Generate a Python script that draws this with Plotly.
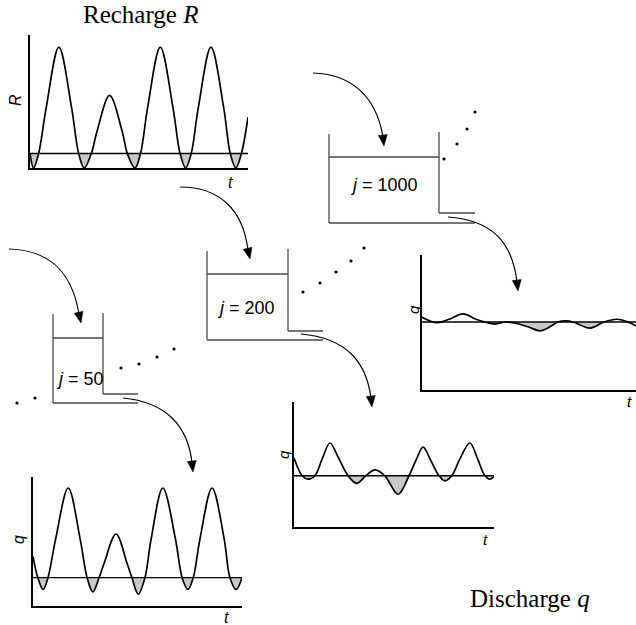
import plotly.graph_objects as go

W_PX, H_PX = 636, 625

# ---- data -------------------------------------------------------------
# Recharge R(t); time in units of one recharge cycle
rech_t = [0.00, 0.07, 0.17, 0.32, 0.57, 0.82, 0.96, 1.07, 1.21, 1.32, 1.57, 1.82,
          1.92, 2.07, 2.18, 2.32, 2.57, 2.82, 2.96, 3.07, 3.18, 3.32, 3.57, 3.82,
          3.95, 4.06, 4.17, 4.30]
rech_R = [1.2, 0.0, 1.2, 5.0, 10.0, 5.0, 1.2, 0.0, 1.2, 3.0, 6.0, 3.0,
          1.2, 0.0, 1.2, 5.0, 10.0, 5.0, 1.2, 0.0, 1.2, 5.0, 10.0, 5.0,
          1.2, 0.0, 1.2, 4.2]
rech_thr = 1.2

# Discharge q(t), reservoir j = 50
q50_t = [0.00, 0.10, 0.21, 0.31, 0.47, 0.73, 0.98, 1.12, 1.24, 1.37, 1.48, 1.72,
         1.95, 2.05, 2.18, 2.32, 2.44, 2.69, 2.95, 3.09, 3.21, 3.32, 3.46, 3.71,
         3.96, 4.08, 4.21, 4.33]
q50_q = [4.2, 2.4, 1.4, 2.4, 5.7, 10.0, 5.6, 2.4, 1.2, 2.4, 3.7, 6.1,
         3.6, 2.4, 1.0, 2.4, 5.5, 10.0, 5.7, 2.4, 1.4, 2.4, 5.7, 10.0,
         5.7, 2.4, 1.4, 2.4]
q50_thr = 2.4

# Discharge q(t), reservoir j = 200
q200_t = [0.00, 0.18, 0.31, 0.46, 0.62, 0.79, 0.99, 1.19, 1.38, 1.58, 1.78, 2.00,
          2.29, 2.53, 2.68, 2.84, 3.01, 3.19, 3.32, 3.47, 3.65, 3.87, 4.04, 4.20,
          4.31, 4.40]
q200_q = [8.2, 6.1, 5.7, 6.1, 8.1, 10.0, 8.1, 6.1, 5.2, 6.1, 6.8, 6.1,
          3.9, 6.1, 7.9, 9.5, 7.9, 6.1, 5.5, 6.1, 8.1, 10.0, 8.1, 6.1,
          5.7, 6.0]
q200_thr = 6.1

# Discharge q(t), reservoir j = 1000
q1000_t = [0.00, 0.30, 0.54, 0.82, 1.08, 1.26, 1.46, 1.66, 1.84, 2.12, 2.36, 2.56,
           2.72, 2.88, 3.02, 3.36, 3.64, 3.90, 4.12, 4.28]
q1000_q = [10.7, 9.9, 10.4, 11.2, 10.4, 10.0, 9.7, 10.0, 9.85, 9.3, 8.7, 9.3,
           10.0, 10.15, 10.0, 9.1, 10.0, 10.4, 10.0, 9.4]
q1000_thr = 10.0

reservoir_labels = ["50", "200", "1000"]

# ---- layout helpers ---------------------------------------------------
def domains(left, right, top, bottom):
    return ([left / W_PX, right / W_PX], [1 - bottom / H_PX, 1 - top / H_PX])


def below_groups(ts, vs, thr):
    groups, cur = [], []
    for t, v in zip(ts, vs):
        if v <= thr + 1e-9:
            cur.append((t, v))
        else:
            if len(cur) >= 3:
                groups.append(cur)
            cur = []
    if len(cur) >= 3:
        groups.append(cur)
    return groups


panels = [
    # (t, values, threshold, pixel box l,r,t,b, x range, y range)
    (rech_t, rech_R, rech_thr, (30, 248, 35, 168), 4.30, 11.0),
    (q50_t, q50_q, q50_thr, (33, 242, 477, 606), 4.33, 10.93),
    (q200_t, q200_q, q200_thr, (294, 494, 402, 527), 4.40, 14.88),
    (q1000_t, q1000_q, q1000_thr, (422, 636, 255, 390), 4.28, 19.85),
]

fig = go.Figure()
layout_axes = {}

# full-page sketch axes (pixel units) for reservoirs, arrows and labels
layout_axes["xaxis"] = dict(domain=[0, 1], range=[0, W_PX], visible=False)
layout_axes["yaxis"] = dict(domain=[0, 1], range=[H_PX, 0], visible=False)

axis_style = dict(showline=True, linecolor="black", linewidth=1.5,
                  showticklabels=False, ticks="", showgrid=False,
                  zeroline=False, fixedrange=True)

for i, (ts, vs, thr, box, xr, yr) in enumerate(panels):
    n = i + 2
    xd, yd = domains(*box)
    layout_axes[f"xaxis{n}"] = dict(domain=xd, range=[0, xr], anchor=f"y{n}", **axis_style)
    layout_axes[f"yaxis{n}"] = dict(domain=yd, range=[0, yr], anchor=f"x{n}", **axis_style)
    xa, ya = f"x{n}", f"y{n}"

    for g in below_groups(ts, vs, thr):
        fig.add_trace(go.Scatter(
            x=[p[0] for p in g], y=[p[1] for p in g], mode="lines",
            line=dict(shape="spline", width=0, color="rgba(0,0,0,0)"),
            fill="toself", fillcolor="#c8c8c8", hoverinfo="skip",
            showlegend=False, xaxis=xa, yaxis=ya))

    fig.add_trace(go.Scatter(
        x=[0, xr], y=[thr, thr], mode="lines",
        line=dict(color="black", width=1.4), showlegend=False,
        hoverinfo="skip", xaxis=xa, yaxis=ya))

    fig.add_trace(go.Scatter(
        x=ts, y=vs, mode="lines",
        line=dict(color="black", width=1.7, shape="spline", smoothing=1.0),
        showlegend=False, hoverinfo="skip", xaxis=xa, yaxis=ya))

shapes = []
BUCKET = "#4a4a4a"

def seg(x0, y0, x1, y1, color=BUCKET, w=1.3):
    shapes.append(dict(type="line", xref="x", yref="y", x0=x0, y0=y0, x1=x1, y1=y1,
                       line=dict(color=color, width=w)))

# reservoirs: left wall x, right wall x, tops, water level, outlet y, floor y, outlet end x
reservoirs = [
    (53, 103, 314, 313, 338, 394, 403, 138),
    (207, 288, 251, 249, 274, 331, 340, 323),
    (329, 439, 134, 132, 157, 213, 223, 475),
]
for (xl, xr_, tl, tr, wl, oy, fy, xo) in reservoirs:
    seg(xl, tl, xl, fy)
    seg(xl, fy, xo, fy)
    seg(xr_, tr, xr_, oy)
    seg(xr_, oy, xo, oy)
    seg(xl, wl, xr_, wl)

# curved arrows: start, control 1, control 2, head base, tip
arrows = [
    ((313, 73), (350, 74), (376, 95), (383, 137), (384, 146)),
    ((180, 187), (220, 187), (243, 210), (248, 250), (250, 259)),
    ((9, 249), (50, 250), (72, 272), (79, 314), (81, 323)),
    ((448, 217), (490, 220), (512, 240), (517, 282), (518, 291)),
    ((301, 334), (345, 338), (366, 360), (371, 398), (372, 407)),
    ((123, 398), (165, 402), (188, 425), (192, 463), (193, 472)),
]
for s, c1, c2, b, tip in arrows:
    shapes.append(dict(
        type="path", xref="x", yref="y",
        path=f"M {s[0]},{s[1]} C {c1[0]},{c1[1]} {c2[0]},{c2[1]} {b[0]},{b[1]}",
        line=dict(color="black", width=1.2)))
    dx, dy = tip[0] - b[0], tip[1] - b[1]
    ln = (dx * dx + dy * dy) ** 0.5
    ux, uy = dx / ln, dy / ln
    px, py = -uy * 4.5, ux * 4.5
    bx, by = tip[0] - ux * 11, tip[1] - uy * 11
    shapes.append(dict(
        type="path", xref="x", yref="y",
        path=f"M {tip[0]},{tip[1]} L {bx + px:.2f},{by + py:.2f} L {bx - px:.2f},{by - py:.2f} Z",
        fillcolor="black", line=dict(color="black", width=0.5)))

# dotted continuations between reservoirs
dots_x = [444, 457, 467, 475, 303, 320, 336, 351, 364, 121, 139, 157, 174, 17, 35]
dots_y = [159, 144, 129, 112, 292, 283, 272, 261, 248, 368, 364, 357, 349, 403, 398]
fig.add_trace(go.Scatter(x=dots_x, y=dots_y, mode="markers",
                         marker=dict(color="black", size=3.2),
                         showlegend=False, hoverinfo="skip", xaxis="x", yaxis="y"))

annotations = []

def label(x, y, text, size, family="Liberation Sans", angle=0):
    annotations.append(dict(x=x, y=y, xref="x", yref="y", text=text, showarrow=False,
                            xanchor="center", yanchor="middle", textangle=angle,
                            font=dict(family=family, size=size, color="black")))

label(140, 14, "Recharge <i>R</i>", 25, family="Liberation Serif")
label(530, 598, "Discharge <i>q</i>", 25, family="Liberation Serif")

label(80, 379, f"<i>j</i> = {reservoir_labels[0]}", 18)
label(246, 308, f"<i>j</i> = {reservoir_labels[1]}", 18)
label(384, 185, f"<i>j</i> = {reservoir_labels[2]}", 18)

label(15, 100, "<i>R</i>", 16, angle=-90)
label(230, 182, "<i>t</i>", 16)
label(18, 540, "<i>q</i>", 16, angle=-90)
label(226, 617, "<i>t</i>", 16)
label(283, 455, "<i>q</i>", 15, angle=-90)
label(485, 539, "<i>t</i>", 15)
label(413, 310, "<i>q</i>", 15, angle=-90)
label(629, 401, "<i>t</i>", 15)

fig.update_layout(
    width=W_PX, height=H_PX,
    margin=dict(l=0, r=0, t=0, b=0),
    paper_bgcolor="white", plot_bgcolor="rgba(0,0,0,0)",
    showlegend=False, shapes=shapes, annotations=annotations,
    **layout_axes,
)

fig.write_html("out.html", config={"displayModeBar": False})
